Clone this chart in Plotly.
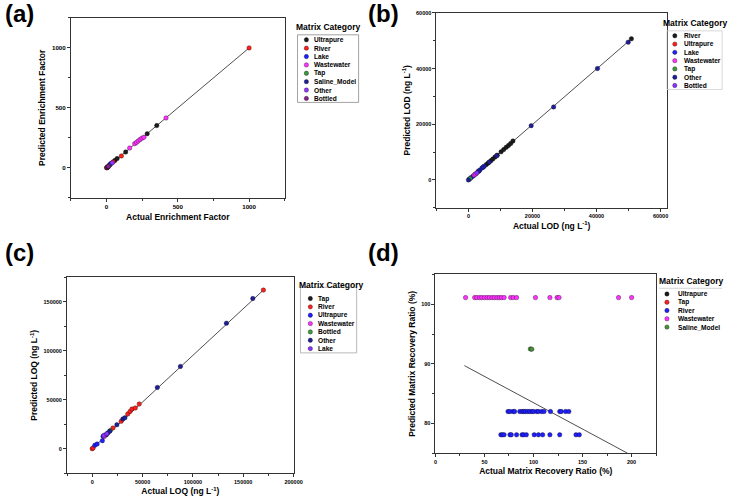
import plotly.graph_objects as go

W, H = 738, 500

# ---------------- Panel (a): Enrichment factor ----------------
A_CATS = ["Ultrapure", "River", "Lake", "Wastewater", "Tap", "Saline_Model", "Other", "Bottled"]
A_COLORS = ["#1c1c1c", "#ff1f1f", "#1f1fff", "#ff33ff", "#3f9a3f", "#1f1f9a", "#9a33ff", "#8a1f8a"]
A_ULTRAPURE_ACT = [0, 5, 58, 74, 134, 285, 352]
A_ULTRAPURE_PRED = [0, 4, 61, 77, 132, 284, 353]
A_RIVER_ACT = [3, 10, 46, 104, 1000]
A_RIVER_PRED = [2, 8, 50, 99, 1000]
A_LAKE_ACT = [19, 25, 30]
A_LAKE_PRED = [22, 28, 36]
A_WASTE_ACT = [162, 197, 210, 222, 235, 248, 262, 417]
A_WASTE_PRED = [165, 201, 212, 224, 236, 247, 255, 416]
A_TAP_ACT = [15]
A_TAP_PRED = [15]
A_SALINE_ACT = [8]
A_SALINE_PRED = [7]
A_OTHER_ACT = [40]
A_OTHER_PRED = [42]
A_BOTTLED_ACT = [12]
A_BOTTLED_PRED = [11]
A_FIT_X = [0, 1000]
A_FIT_Y = [0, 1000]

# ---------------- Panel (b): LOD ----------------
B_CATS = ["River", "Ultrapure", "Lake", "Wastewater", "Tap", "Other", "Bottled"]
B_COLORS = ["#1c1c1c", "#ff1f1f", "#1f1fff", "#ff33ff", "#3f9a3f", "#1f1f9a", "#8a33ff"]
B_RIVER_ACT = [5600, 6200, 7000, 7600, 8300, 9000, 10200, 11000, 11800, 12500, 13200, 13900, 50900]
B_RIVER_PRED = [5500, 6100, 6900, 7500, 8200, 8900, 10100, 10900, 11700, 12400, 13100, 14000, 50700]
B_ULTRAPURE_ACT = [2200]
B_ULTRAPURE_PRED = [2100]
B_LAKE_ACT = [300, 900, 1500, 3000, 3500, 4200, 4900]
B_LAKE_PRED = [300, 900, 1400, 3000, 3500, 4300, 4900]
B_WASTE_ACT = [1800, 2200]
B_WASTE_PRED = [1800, 2100]
B_TAP_ACT = [500]
B_TAP_PRED = [500]
B_OTHER_ACT = [0, 3300, 4600, 6500, 8800, 19600, 26600, 40300, 49900]
B_OTHER_PRED = [0, 3200, 4600, 6400, 8700, 19500, 26200, 40000, 49500]
B_BOTTLED_ACT = [2600]
B_BOTTLED_PRED = [2500]
B_FIT_X = [0, 51000]
B_FIT_Y = [0, 50800]

# ---------------- Panel (c): LOQ ----------------
C_CATS = ["Tap", "River", "Ultrapure", "Wastewater", "Bottled", "Other", "Lake"]
C_COLORS = ["#1c1c1c", "#ff1f1f", "#1f1fff", "#ff33ff", "#3f9a3f", "#1f1f9a", "#8a33ff"]
C_TAP_ACT = [14000]
C_TAP_PRED = [14200]
C_RIVER_ACT = [0, 1000, 20600, 28800, 35300, 37600, 39500, 42800, 46700, 170000]
C_RIVER_PRED = [0, 800, 21100, 27900, 35400, 38100, 40500, 41500, 45600, 162000]
C_ULTRAPURE_ACT = [2600, 4900, 10100, 10800, 13000, 15500]
C_ULTRAPURE_PRED = [3400, 4800, 8200, 12600, 14000, 16000]
C_WASTE_ACT = [12000]
C_WASTE_PRED = [12500]
C_BOTTLED_ACT = [18000]
C_BOTTLED_PRED = [18500]
C_OTHER_ACT = [17300, 24500, 30400, 32500, 64700, 87600, 133300, 159500]
C_OTHER_PRED = [17700, 24500, 30300, 31500, 62600, 84000, 128200, 153400]
C_LAKE_ACT = [11500, 14500]
C_LAKE_PRED = [13500, 15200]
C_FIT_X = [0, 170000]
C_FIT_Y = [0, 162000]

# ---------------- Panel (d): Matrix recovery ratio ----------------
D_CATS = ["Ultrapure", "Tap", "River", "Wastewater", "Saline_Model"]
D_COLORS = ["#1c1c1c", "#ff1f1f", "#1f1fff", "#ff33ff", "#4a8f3a"]
D_ULTRAPURE_ACT = []
D_ULTRAPURE_PRED = []
D_TAP_ACT = []
D_TAP_PRED = []
D_RIVER_ACT = [74, 76, 79.3, 80.7, 86, 88.3, 90, 91.7, 94, 96, 98.3, 100, 103.3, 105, 108.3, 110.7,
               117.3, 126.7, 128.3, 132.7, 136,
               66.7, 68.3, 70, 76, 77.3, 82.7, 88.3, 90, 92.7, 100.7, 105, 109.3, 116.7, 126.7, 143.3, 146.7]
D_RIVER_PRED = [82.0] * 21 + [78.1] * 16
D_WASTE_ACT = [30.7, 40, 42.3, 45, 47.3, 50, 52.7, 55, 57.7, 60, 62.7, 65, 67.3, 70, 76.7, 79.3,
               82.7, 102, 116.7, 124, 126, 186.7, 200]
D_WASTE_PRED = [101.1] * 23
D_SALINE_ACT = [96.8, 98.2]
D_SALINE_PRED = [92.5, 92.45]
D_FIT_X = [29.5, 196]
D_FIT_Y = [89.7, 75.0]

# ---------------- layout helpers (pixel geometry) ----------------
FONT = "Liberation Sans, Arial, sans-serif"


def fx(px):
    return px / W


def fy(py):
    return 1 - py / H


PANELS = [
    dict(tag="(a)", box=(70, 287, 15, 196), xr=[-250, 1250], yr=[-250, 1250], dt=500, mdt=250,
         xt="Actual Enrichment Factor", yt="Predicted Enrichment Factor", tsize=6.2,
         lab=(1, 11)),
    dict(tag="(b)", box=(441, 675, 10, 206), xr=[-10000, 62000], yr=[-10000, 60000], dt=20000, mdt=10000,
         xt="Actual LOD (ng L<sup>-1</sup>)", yt="Predicted LOD (ng L<sup>-1</sup>)", tsize=5.5,
         lab=(370, 11)),
    dict(tag="(c)", box=(66, 296, 276, 473), xr=[-25000, 200000], yr=[-25000, 175000], dt=50000, mdt=25000,
         xt="Actual LOQ (ng L<sup>-1</sup>)", yt="Predicted LOQ (ng L<sup>-1</sup>)", tsize=5.5,
         lab=(1, 251)),
    dict(tag="(d)", box=(440, 664, 273, 453), xr=[0, 225], yr=[75, 105], dt=50, mdt=25, ydt=10, ymdt=5,
         xt="Actual Matrix Recovery Ratio (%)", yt="Predicted Matrix Recovery Ratio (%)", tsize=5.5,
         lab=(370, 251)),
]

# legend geometry in pixels: box (l, r, t, b), first row centre, row pitch, marker x, text x, title centre
LEGENDS = [
    dict(box=(300, 362, 32, 100), first=37, pitch=8.43, mx=309, tx=315, title=(331, 24), lc="#8a8a8a", full=True),
    dict(box=(675, 731, 28, 87), first=33, pitch=8.33, mx=683, tx=690, title=(704, 20), lc="#cfcfcf", full=True),
    dict(box=(303, 360, 286, 352), first=297.3, pitch=8.4, mx=313, tx=319, title=(334, 284), lc="#a8a8a8", full=True),
    dict(box=(667, 731, 287, 332), first=292.7, pitch=8.33, mx=675, tx=684, title=(700, 280), lc="#c8c8c8", full=False),
]

PANEL_SERIES = [
    (A_CATS, A_COLORS, [(A_ULTRAPURE_ACT, A_ULTRAPURE_PRED), (A_RIVER_ACT, A_RIVER_PRED), (A_LAKE_ACT, A_LAKE_PRED),
                        (A_WASTE_ACT, A_WASTE_PRED), (A_TAP_ACT, A_TAP_PRED), (A_SALINE_ACT, A_SALINE_PRED),
                        (A_OTHER_ACT, A_OTHER_PRED), (A_BOTTLED_ACT, A_BOTTLED_PRED)], (A_FIT_X, A_FIT_Y)),
    (B_CATS, B_COLORS, [(B_RIVER_ACT, B_RIVER_PRED), (B_ULTRAPURE_ACT, B_ULTRAPURE_PRED), (B_LAKE_ACT, B_LAKE_PRED),
                        (B_WASTE_ACT, B_WASTE_PRED), (B_TAP_ACT, B_TAP_PRED), (B_OTHER_ACT, B_OTHER_PRED),
                        (B_BOTTLED_ACT, B_BOTTLED_PRED)], (B_FIT_X, B_FIT_Y)),
    (C_CATS, C_COLORS, [(C_TAP_ACT, C_TAP_PRED), (C_RIVER_ACT, C_RIVER_PRED), (C_ULTRAPURE_ACT, C_ULTRAPURE_PRED),
                        (C_WASTE_ACT, C_WASTE_PRED), (C_BOTTLED_ACT, C_BOTTLED_PRED), (C_OTHER_ACT, C_OTHER_PRED),
                        (C_LAKE_ACT, C_LAKE_PRED)], (C_FIT_X, C_FIT_Y)),
    (D_CATS, D_COLORS, [(D_ULTRAPURE_ACT, D_ULTRAPURE_PRED), (D_TAP_ACT, D_TAP_PRED), (D_RIVER_ACT, D_RIVER_PRED),
                        (D_WASTE_ACT, D_WASTE_PRED), (D_SALINE_ACT, D_SALINE_PRED)], (D_FIT_X, D_FIT_Y)),
]

fig = go.Figure()
layout = dict(width=W, height=H, margin=dict(l=0, r=0, t=0, b=0), paper_bgcolor="white",
              plot_bgcolor="white", showlegend=False, font=dict(family=FONT, color="black"))
annotations = []
shapes = []
R = 2.2  # legend marker radius (px)

for k, (p, (cats, colors, series, fit)) in enumerate(zip(PANELS, PANEL_SERIES), start=1):
    xa, ya = f"x{k}", f"y{k}"
    fig.add_trace(go.Scatter(x=fit[0], y=fit[1], mode="lines", xaxis=xa, yaxis=ya,
                             line=dict(color="#222222", width=0.8), hoverinfo="skip"))
    for cat, col, (xs, ys) in zip(cats, colors, series):
        if not xs:
            continue
        fig.add_trace(go.Scatter(x=xs, y=ys, mode="markers", name=cat, xaxis=xa, yaxis=ya,
                                 marker=dict(size=4.5, color=col, line=dict(color="rgba(0,0,0,0.55)", width=0.6))))
    l, r, t, b = p["box"]
    tickfont = dict(family=FONT, size=p["tsize"], weight="bold", color="black")
    titlefont = dict(family=FONT, size=8.5, weight="bold", color="black")
    common = dict(showline=True, mirror=True, linecolor="#333333", linewidth=1, showgrid=False,
                  zeroline=False, ticks="outside", ticklen=3, tickwidth=0.8, tickcolor="#333333",
                  tickfont=tickfont, fixedrange=True, tickformat="d")
    layout[f"xaxis{k}"] = dict(domain=[fx(l), fx(r)], anchor=ya, range=p["xr"], dtick=p["dt"], tick0=0,
                               minor=dict(dtick=p["mdt"], ticks="outside", ticklen=2, tickcolor="#333333"),
                               title=dict(text=p["xt"], font=titlefont, standoff=4), **common)
    layout[f"yaxis{k}"] = dict(domain=[fy(b), fy(t)], anchor=xa, range=p["yr"], dtick=p.get("ydt", p["dt"]), tick0=0,
                               minor=dict(dtick=p.get("ymdt", p["mdt"]), ticks="outside", ticklen=2, tickcolor="#333333"),
                               title=dict(text=p["yt"], font=titlefont, standoff=4), **common)
    annotations.append(dict(text=p["tag"], x=fx(p["lab"][0]), y=fy(p["lab"][1]), xref="paper",
                            yref="paper", xanchor="left", yanchor="middle", showarrow=False,
                            font=dict(family=FONT, size=24, weight="bold", color="black")))

    # legend (box, markers and labels) in paper coordinates
    lg = LEGENDS[k - 1]
    bl, br, bt, bb = lg["box"]
    if lg["full"]:
        shapes.append(dict(type="rect", xref="paper", yref="paper", x0=fx(bl), x1=fx(br), y0=fy(bb), y1=fy(bt),
                           line=dict(color=lg["lc"], width=0.8), fillcolor="rgba(0,0,0,0)"))
    else:
        shapes.append(dict(type="line", xref="paper", yref="paper", x0=fx(bl), x1=fx(br), y0=fy(bt), y1=fy(bt),
                           line=dict(color=lg["lc"], width=0.8)))
    for i, (cat, col) in enumerate(zip(cats, colors)):
        cy = lg["first"] + i * lg["pitch"]
        shapes.append(dict(type="circle", xref="paper", yref="paper",
                           x0=fx(lg["mx"] - R), x1=fx(lg["mx"] + R), y0=fy(cy + R), y1=fy(cy - R),
                           fillcolor=col, line=dict(color="rgba(0,0,0,0.55)", width=0.6)))
        annotations.append(dict(text=cat, x=fx(lg["tx"]), y=fy(cy), xref="paper", yref="paper",
                                xanchor="left", yanchor="middle", showarrow=False,
                                font=dict(family=FONT, size=6.6, weight="bold", color="black")))
    annotations.append(dict(text="Matrix Category", x=fx(lg["title"][0]), y=fy(lg["title"][1]),
                            xref="paper", yref="paper", xanchor="center", yanchor="middle", showarrow=False,
                            font=dict(family=FONT, size=8.5, weight="bold", color="black")))

layout["annotations"] = annotations
layout["shapes"] = shapes
fig.update_layout(**layout)
fig.write_html("out.html")
